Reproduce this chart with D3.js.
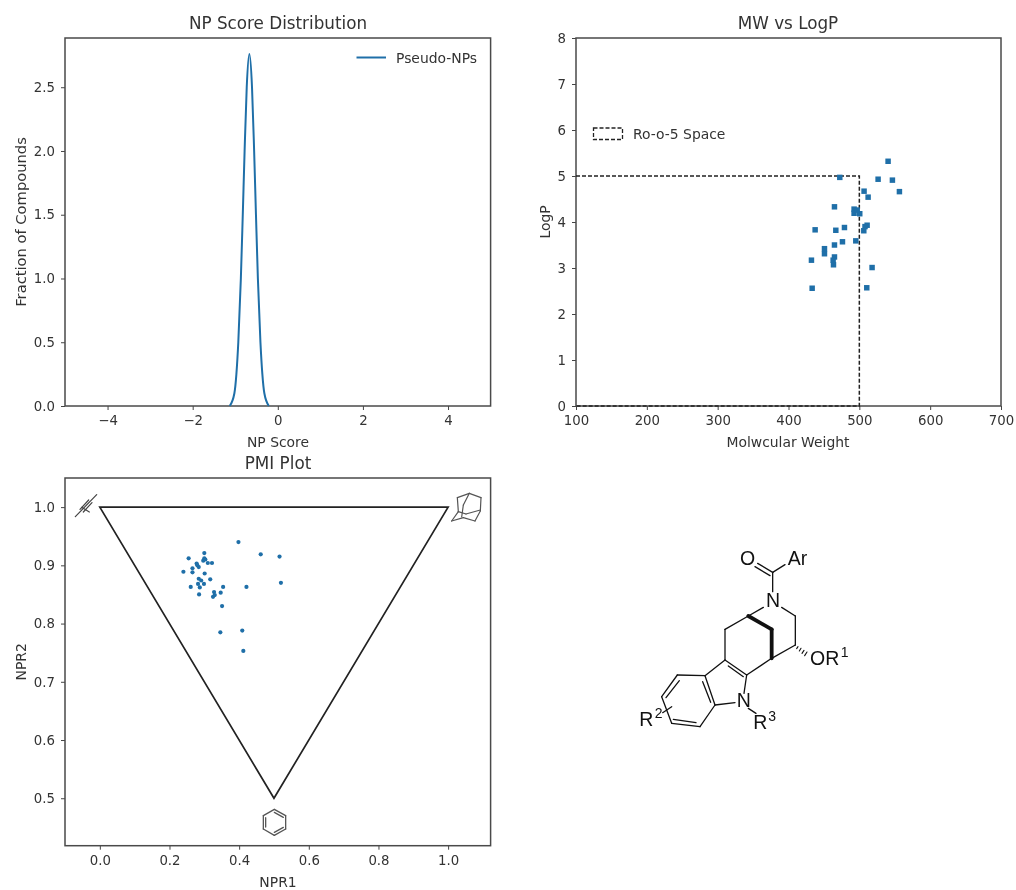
<!DOCTYPE html>
<html>
<head>
<meta charset="utf-8">
<script src="https://cdn.jsdelivr.net/npm/d3@7"></script>
<style>
  html, body { margin: 0; padding: 0; background: #fff; }
  svg { display: block; filter: blur(0.55px); }
  text { font-family: "DejaVu Sans", sans-serif; fill: #333; }
  .tick text { font-size: 13.3px; }
  .title { font-size: 16.8px; text-anchor: middle; }
  .axis-label { font-size: 13.9px; text-anchor: middle; }
  .legend { font-size: 13.9px; }
  .chem { font-family: "Liberation Sans", Arial, sans-serif; fill: #111; font-size: 19.5px; }
  .chem-sup { font-family: "Liberation Sans", Arial, sans-serif; fill: #111; font-size: 14px; }
</style>
</head>
<body>
<svg width="1016" height="890"></svg>
<script>
// NP score curve
let npScore = [-1.13, -1.02, -0.973, -0.928, -0.868, -0.823, -0.78, -0.73, -0.668, -0.606, -0.556, -0.513, -0.468, -0.408, -0.363, -0.316, -0.21];
let npDensity = [0, 0.1, 0.25, 0.5, 1.0, 1.5, 2.0, 2.5, 2.76, 2.5, 2.0, 1.5, 1.0, 0.5, 0.25, 0.1, 0];

let mw = [540.6, 526.5, 546.7, 556.6, 472.4, 506.7, 512.4, 464.9, 492.6, 492.6, 500.6, 497, 511, 508, 506.3, 437.6, 466.8, 479, 476.2, 495, 464.9, 450.8, 450.8, 464.9, 463, 463.5, 432.4, 518, 433.4, 510.5];
let logP = [5.32, 4.93, 4.91, 4.66, 4.97, 4.67, 4.54, 4.33, 4.28, 4.19, 4.18, 4.26, 3.93, 3.90, 3.81, 3.83, 3.82, 3.88, 3.57, 3.59, 3.50, 3.42, 3.31, 3.24, 3.17, 3.07, 3.17, 3.01, 2.56, 2.57];
let ro5Mw = [100, 500, 500, 100];
let ro5LogP = [5, 5, 0, 0];

let npr1 = [.398, .462, .516, .520, .421, .300, .255, .300, .297, .303, .310, .322, .278, .280, .284, .266, .266, .240, .301, .284, .291, .317, .299, .282, .287, .261, .354, .285, .328, .330, .325, .347, .351, .346, .409, .412];
let npr2 = [.940, .919, .915, .870, .863, .921, .912, .912, .908, .910, .904, .904, .903, .900, .897, .895, .888, .889, .886, .877, .874, .876, .868, .868, .862, .863, .863, .850, .854, .849, .846, .853, .830, .785, .788, .753];
let triNpr1 = [0, 1, 0.5];
let triNpr2 = [1, 1, 0.5];

let npXTicks = [-4, -2, 0, 2, 4];
let npYTicks = [0, 0.5, 1, 1.5, 2, 2.5];
let mwXTicks = [100, 200, 300, 400, 500, 600, 700];
let mwYTicks = [0, 1, 2, 3, 4, 5, 6, 7, 8];
let pmiXTicks = [0, 0.2, 0.4, 0.6, 0.8, 1];
let pmiYTicks = [0.5, 0.6, 0.7, 0.8, 0.9, 1];

let blue = '#1f6fa8';
let svg = d3.select('svg');

// sets up one matplotlib style panel and hands back its scales
let makePanel = (p) => {
    let x = d3.scaleLinear().domain(p.xDomain).range([p.left, p.right]);
    let y = d3.scaleLinear().domain(p.yDomain).range([p.bottom, p.top]);

    svg.append('g')
        .attr('transform', 'translate(0,' + p.bottom + ')')
        .call(d3.axisBottom(x).tickValues(p.xTicks).tickFormat(d3.format(p.xFormat)).tickSizeInner(4).tickSizeOuter(0).tickPadding(6))
        .call(g => g.select('.domain').remove());
    svg.append('g')
        .attr('transform', 'translate(' + p.left + ',0)')
        .call(d3.axisLeft(y).tickValues(p.yTicks).tickFormat(d3.format(p.yFormat)).tickSizeInner(4).tickSizeOuter(0).tickPadding(6))
        .call(g => g.select('.domain').remove());
    svg.selectAll('.tick line').attr('stroke', '#444').attr('stroke-width', 1);

    svg.append('rect')
        .attr('x', p.left).attr('y', p.top)
        .attr('width', p.right - p.left).attr('height', p.bottom - p.top)
        .attr('fill', 'none').attr('stroke', '#4a4a4a').attr('stroke-width', 1.5);

    svg.append('text').attr('class', 'title').attr('x', p.titleX).attr('y', p.titleY).text(p.title);
    svg.append('text').attr('class', 'axis-label').attr('x', p.titleX).attr('y', p.xLabelY).text(p.xLabel);
    svg.append('text').attr('class', 'axis-label')
        .attr('transform', 'translate(' + p.yLabelX + ',' + (p.top + p.bottom) / 2 + ') rotate(-90)')
        .style('font-size', p.yLabelSize)
        .text(p.yLabel);
    return {x, y};
}

// panel 1
let np = makePanel({
    left: 65, right: 490.6, top: 38, bottom: 406,
    xDomain: [-5, 5], yDomain: [0, 2.886],
    xTicks: npXTicks, yTicks: npYTicks, xFormat: 'd', yFormat: '.1f',
    title: 'NP Score Distribution', titleX: 278, titleY: 29,
    xLabel: 'NP Score', xLabelY: 447, yLabel: 'Fraction of Compounds', yLabelX: 26, yLabelSize: '14.7px'
});
let npLine = d3.line().x(d => np.x(d[0])).y(d => np.y(d[1])).curve(d3.curveMonotoneX);
svg.append('path')
    .attr('d', npLine(npScore.map((v, i) => [v, npDensity[i]])))
    .attr('fill', 'none').attr('stroke', blue).attr('stroke-width', 2);
svg.append('line').attr('x1', 356.5).attr('x2', 386).attr('y1', 57.5).attr('y2', 57.5)
    .attr('stroke', blue).attr('stroke-width', 2);
svg.append('text').attr('class', 'legend').attr('x', 396).attr('y', 62.5).text('Pseudo-NPs');

// panel 2
let mwP = makePanel({
    left: 576, right: 1001, top: 38, bottom: 406,
    xDomain: [100, 700], yDomain: [0, 8],
    xTicks: mwXTicks, yTicks: mwYTicks, xFormat: 'd', yFormat: 'd',
    title: 'MW vs LogP', titleX: 788, titleY: 29,
    xLabel: 'Molwcular Weight', xLabelY: 447, yLabel: 'LogP', yLabelX: 550
});
let ro5Line = d3.line().x(d => mwP.x(d[0])).y(d => mwP.y(d[1]));
svg.append('path')
    .attr('d', ro5Line(ro5Mw.map((v, i) => [v, ro5LogP[i]])))
    .attr('fill', 'none').attr('stroke', '#222').attr('stroke-width', 1.5).attr('stroke-dasharray', '4,2');
svg.selectAll('.mw-point')
    .data(mw)
    .enter()
    .append('path')
    .attr('class', 'mw-point')
    .attr('d', d3.symbol(d3.symbolSquare, 30))
    .attr('transform', (d, i) => 'translate(' + mwP.x(d) + ',' + mwP.y(logP[i]) + ')')
    .attr('fill', blue);
svg.append('rect').attr('x', 593.5).attr('y', 128).attr('width', 29).attr('height', 11.5)
    .attr('fill', 'none').attr('stroke', '#222').attr('stroke-width', 1.3).attr('stroke-dasharray', '4,2');
svg.append('text').attr('class', 'legend').attr('x', 633).attr('y', 139).text('Ro-o-5 Space');

// panel 3
let pmi = makePanel({
    left: 65, right: 490.6, top: 478, bottom: 845.7,
    xDomain: [-0.1, 1.122], yDomain: [0.4185, 1.05],
    xTicks: pmiXTicks, yTicks: pmiYTicks, xFormat: '.1f', yFormat: '.1f',
    title: 'PMI Plot', titleX: 278, titleY: 469,
    xLabel: 'NPR1', xLabelY: 887, yLabel: 'NPR2', yLabelX: 26
});
svg.append('path')
    .attr('d', d3.line().x(d => pmi.x(d[0])).y(d => pmi.y(d[1])).curve(d3.curveLinearClosed)(triNpr1.map((v, i) => [v, triNpr2[i]])))
    .attr('fill', 'none').attr('stroke', '#222').attr('stroke-width', 1.7);
svg.selectAll('.pmi-point')
    .data(npr1)
    .enter()
    .append('circle')
    .attr('class', 'pmi-point')
    .attr('cx', d => pmi.x(d))
    .attr('cy', (d, i) => pmi.y(npr2[i]))
    .attr('r', 2.1)
    .attr('fill', blue);

// structure sketches, segments are [x1, y1, x2, y2] in the 3x crop units
let sketchX = d3.scaleLinear().domain([0, 3]).range([0, 1]);
let sketchY = d3.scaleLinear().domain([0, 3]).range([450, 451]);
let drawSegs = (segs, color, width) => {
    svg.append('g').selectAll('line').data(segs).enter().append('line')
        .attr('x1', d => sketchX(d[0])).attr('y1', d => sketchY(d[1]))
        .attr('x2', d => sketchX(d[2])).attr('y2', d => sketchY(d[3]))
        .attr('stroke', color).attr('stroke-width', width).attr('stroke-linecap', 'round');
}
let alkyneSegs = [[226, 200, 290, 134], [240, 178, 266, 150], [250, 186, 276, 158], [245, 172, 268, 186]];
let adamantaneSegs = [[1355, 213, 1375, 185], [1375, 185, 1372, 143], [1372, 143, 1408, 130], [1408, 130, 1443, 143], [1443, 143, 1441, 183], [1441, 183, 1425, 213], [1425, 213, 1390, 203], [1390, 203, 1355, 213], [1375, 185, 1398, 192], [1398, 192, 1441, 180], [1408, 130, 1390, 165], [1390, 165, 1385, 201]];
let benzeneSegs = [[823, 1078, 857, 1097], [857, 1097, 857, 1137], [857, 1137, 823, 1156], [823, 1156, 790, 1137], [790, 1137, 790, 1097], [790, 1097, 823, 1078], [797, 1103, 797, 1131], [823, 1147, 850, 1132], [823, 1087, 850, 1102]];
drawSegs(alkyneSegs, '#444', 1.2);
drawSegs(adamantaneSegs, '#555', 1.2);
drawSegs(benzeneSegs, '#555', 1.3);

// scaffold drawing, crop units of the region starting at 620,530
let molX = d3.scaleLinear().domain([0, 780]).range([620, 880]);
let molY = d3.scaleLinear().domain([0, 690]).range([530, 760]);
let molBonds = [[458, 127, 495, 104], [458, 127, 413, 100], [450, 137, 405, 110], [458, 127, 458, 185], [430, 232, 385, 258], [485, 232, 526, 258], [526, 258, 526, 345], [526, 345, 455, 385], [385, 258, 315, 298], [315, 298, 315, 390], [315, 390, 380, 435], [325, 408, 370, 440], [380, 435, 455, 385], [380, 435, 372, 490], [315, 390, 255, 437], [345, 518, 285, 525], [285, 525, 255, 437], [272, 517, 248, 455], [255, 437, 172, 435], [172, 435, 125, 500], [178, 452, 138, 503], [125, 500, 155, 580], [155, 580, 240, 590], [160, 568, 228, 578], [240, 590, 285, 525], [128, 548, 155, 530], [385, 535, 408, 550]];
let molBold = [[385, 258, 455, 298], [455, 298, 455, 385]];
let molHash = [[534, 350, 530, 356], [543, 355, 538, 363], [552, 361, 546, 370], [561, 366, 554, 377]];
let molLabels = ['O', 'Ar', 'N', 'OR', 'N', 'R', 'R'];
let molLabelX = [360, 503, 438, 570, 350, 400, 58];
let molLabelY = [105, 105, 232, 405, 532, 598, 588];
let molSups = ['1', '3', '2'];
let molSupX = [662, 445, 104];
let molSupY = [380, 573, 565];

let drawMol = (segs, width) => {
    svg.append('g').selectAll('line').data(segs).enter().append('line')
        .attr('x1', d => molX(d[0])).attr('y1', d => molY(d[1]))
        .attr('x2', d => molX(d[2])).attr('y2', d => molY(d[3]))
        .attr('stroke', '#111').attr('stroke-width', width).attr('stroke-linecap', 'round');
}
drawMol(molBonds, 1.3);
drawMol(molBold, 3.8);
drawMol(molHash, 1.1);
svg.append('g').selectAll('text').data(molLabels).enter().append('text')
    .attr('class', 'chem')
    .attr('x', (d, i) => molX(molLabelX[i])).attr('y', (d, i) => molY(molLabelY[i]))
    .text(d => d);
svg.append('g').selectAll('text').data(molSups).enter().append('text')
    .attr('class', 'chem-sup')
    .attr('x', (d, i) => molX(molSupX[i])).attr('y', (d, i) => molY(molSupY[i]))
    .text(d => d);
</script>
</body>
</html>
